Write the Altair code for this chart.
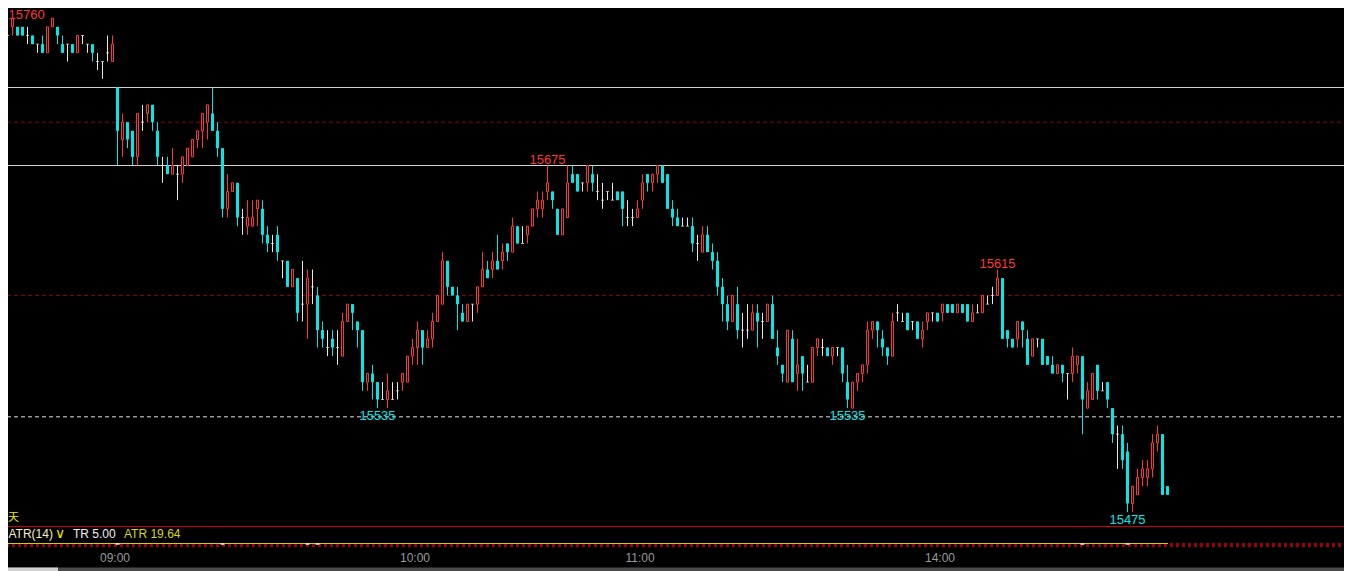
import altair as alt
import pandas as pd

# ---------------- data (1-minute candles) ----------------
opens = [
    15755, 15750, 15755, 15755, 15755, 15750, 15750, 15745, 15745, 15740,
    15755, 15755, 15745, 15745, 15745, 15740, 15750, 15745, 15745, 15735,
    15735, 15740, 15735, 15720, 15690, 15700, 15695, 15680, 15700, 15705,
    15710, 15695, 15675, 15675, 15670, 15670, 15670, 15675, 15680, 15690,
    15695, 15700, 15705, 15695, 15685, 15650, 15660, 15665, 15645, 15640,
    15640, 15650, 15650, 15635, 15630, 15635, 15620, 15620, 15605, 15610,
    15595, 15595, 15605, 15600, 15580, 15570, 15575, 15570, 15565, 15585,
    15595, 15585, 15580, 15550, 15555, 15550, 15540, 15540, 15540, 15545,
    15550, 15550, 15565, 15570, 15580, 15570, 15575, 15585, 15595, 15620,
    15605, 15600, 15590, 15585, 15595, 15595, 15605, 15615, 15615, 15620,
    15620, 15630, 15625, 15640, 15630, 15635, 15640, 15650, 15650, 15660,
    15660, 15650, 15635, 15645, 15670, 15670, 15665, 15665, 15670, 15660,
    15655, 15660, 15655, 15660, 15660, 15645, 15645, 15645, 15655, 15670,
    15665, 15670, 15675, 15670, 15650, 15645, 15640, 15640, 15640, 15630,
    15625, 15635, 15625, 15620, 15605, 15595, 15585, 15595, 15580, 15580,
    15580, 15590, 15585, 15585, 15595, 15570, 15560, 15550, 15575, 15555,
    15565, 15550, 15550, 15570, 15570, 15570, 15565, 15570, 15570, 15550,
    15535, 15550, 15555, 15560, 15580, 15585, 15575, 15570, 15565, 15590,
    15585, 15590, 15585, 15585, 15575, 15585, 15590, 15590, 15590, 15595,
    15595, 15590, 15595, 15595, 15585, 15590, 15590, 15595, 15600, 15600,
    15610, 15580, 15575, 15575, 15585, 15575, 15565, 15575, 15575, 15565,
    15560, 15555, 15560, 15555, 15555, 15560, 15565, 15535, 15540, 15560,
    15545, 15550, 15535, 15520, 15520, 15510, 15480, 15485, 15495, 15495,
    15500, 15515, 15520, 15490,
]
highs = [
    15755, 15755, 15760, 15755, 15755, 15755, 15750, 15745, 15750, 15755,
    15760, 15755, 15750, 15745, 15745, 15750, 15750, 15745, 15745, 15740,
    15735, 15750, 15750, 15720, 15705, 15700, 15695, 15705, 15710, 15710,
    15710, 15700, 15680, 15680, 15685, 15675, 15680, 15685, 15690, 15695,
    15705, 15710, 15720, 15700, 15685, 15670, 15665, 15665, 15650, 15655,
    15655, 15655, 15655, 15640, 15635, 15640, 15620, 15620, 15615, 15610,
    15620, 15615, 15615, 15605, 15585, 15580, 15580, 15580, 15590, 15595,
    15595, 15585, 15580, 15555, 15560, 15550, 15550, 15555, 15550, 15550,
    15555, 15565, 15575, 15585, 15580, 15580, 15590, 15600, 15625, 15620,
    15605, 15605, 15595, 15595, 15595, 15605, 15625, 15620, 15625, 15635,
    15630, 15630, 15645, 15640, 15640, 15640, 15650, 15660, 15660, 15675,
    15660, 15650, 15650, 15675, 15675, 15670, 15665, 15675, 15675, 15670,
    15665, 15660, 15665, 15660, 15660, 15655, 15650, 15655, 15670, 15670,
    15670, 15675, 15675, 15670, 15655, 15650, 15645, 15645, 15645, 15635,
    15640, 15640, 15630, 15625, 15610, 15600, 15600, 15605, 15590, 15595,
    15595, 15595, 15590, 15595, 15600, 15580, 15560, 15580, 15580, 15575,
    15565, 15560, 15570, 15575, 15575, 15570, 15570, 15570, 15570, 15560,
    15550, 15555, 15560, 15585, 15585, 15585, 15580, 15570, 15590, 15595,
    15590, 15590, 15585, 15585, 15585, 15590, 15590, 15590, 15595, 15595,
    15595, 15595, 15595, 15595, 15595, 15595, 15600, 15600, 15605, 15615,
    15610, 15580, 15575, 15585, 15585, 15580, 15575, 15575, 15575, 15565,
    15565, 15560, 15560, 15555, 15570, 15565, 15565, 15550, 15555, 15560,
    15550, 15550, 15535, 15525, 15525, 15515, 15490, 15500, 15505, 15505,
    15520, 15525, 15520, 15490,
]
lows = [
    15750, 15745, 15750, 15750, 15750, 15745, 15745, 15740, 15740, 15740,
    15755, 15745, 15740, 15735, 15740, 15740, 15745, 15740, 15735, 15730,
    15725, 15735, 15735, 15675, 15680, 15685, 15675, 15675, 15695, 15700,
    15695, 15675, 15665, 15670, 15670, 15655, 15665, 15675, 15680, 15685,
    15685, 15690, 15695, 15680, 15645, 15645, 15660, 15640, 15635, 15635,
    15640, 15640, 15630, 15625, 15625, 15620, 15610, 15605, 15605, 15585,
    15585, 15575, 15595, 15570, 15570, 15565, 15565, 15560, 15565, 15585,
    15580, 15570, 15545, 15545, 15540, 15535, 15540, 15535, 15540, 15540,
    15545, 15550, 15560, 15560, 15560, 15570, 15570, 15585, 15595, 15600,
    15600, 15580, 15585, 15585, 15585, 15590, 15605, 15610, 15610, 15615,
    15615, 15620, 15625, 15630, 15630, 15630, 15640, 15645, 15645, 15655,
    15650, 15635, 15635, 15645, 15665, 15660, 15660, 15660, 15660, 15655,
    15650, 15655, 15655, 15655, 15640, 15640, 15640, 15645, 15650, 15660,
    15660, 15665, 15665, 15650, 15640, 15640, 15640, 15640, 15625, 15620,
    15625, 15625, 15615, 15600, 15585, 15580, 15585, 15575, 15570, 15575,
    15580, 15570, 15575, 15585, 15575, 15560, 15550, 15550, 15550, 15545,
    15545, 15550, 15550, 15565, 15565, 15565, 15560, 15565, 15550, 15535,
    15535, 15545, 15550, 15555, 15575, 15570, 15565, 15560, 15565, 15585,
    15585, 15580, 15580, 15575, 15570, 15580, 15585, 15585, 15585, 15590,
    15590, 15590, 15590, 15585, 15585, 15590, 15590, 15595, 15595, 15600,
    15575, 15570, 15570, 15570, 15570, 15560, 15565, 15570, 15560, 15560,
    15555, 15555, 15550, 15540, 15550, 15555, 15520, 15535, 15540, 15540,
    15545, 15535, 15515, 15500, 15500, 15475, 15475, 15485, 15490, 15490,
    15495, 15510, 15485, 15485,
]
closes = [
    15750, 15750, 15760, 15750, 15750, 15750, 15745, 15745, 15740, 15755,
    15760, 15750, 15740, 15745, 15740, 15750, 15750, 15745, 15740, 15735,
    15735, 15740, 15745, 15695, 15700, 15690, 15680, 15705, 15700, 15710,
    15700, 15680, 15675, 15670, 15675, 15670, 15680, 15685, 15690, 15695,
    15705, 15710, 15695, 15685, 15650, 15660, 15665, 15645, 15645, 15645,
    15645, 15655, 15635, 15630, 15630, 15625, 15620, 15605, 15615, 15590,
    15595, 15610, 15605, 15580, 15575, 15570, 15570, 15570, 15585, 15595,
    15590, 15580, 15550, 15555, 15550, 15540, 15540, 15545, 15540, 15545,
    15555, 15565, 15570, 15580, 15570, 15575, 15585, 15600, 15620, 15605,
    15600, 15595, 15585, 15595, 15595, 15605, 15615, 15610, 15620, 15615,
    15625, 15625, 15640, 15630, 15630, 15640, 15650, 15655, 15655, 15665,
    15655, 15635, 15650, 15665, 15665, 15660, 15665, 15675, 15665, 15660,
    15655, 15660, 15655, 15655, 15650, 15645, 15645, 15650, 15665, 15665,
    15670, 15675, 15665, 15650, 15645, 15640, 15640, 15640, 15630, 15630,
    15635, 15625, 15620, 15605, 15595, 15585, 15600, 15580, 15580, 15580,
    15590, 15585, 15585, 15595, 15575, 15565, 15555, 15580, 15550, 15560,
    15555, 15550, 15570, 15575, 15570, 15565, 15570, 15570, 15555, 15540,
    15550, 15555, 15560, 15580, 15585, 15580, 15570, 15565, 15585, 15590,
    15585, 15580, 15585, 15575, 15580, 15590, 15590, 15585, 15595, 15590,
    15590, 15595, 15590, 15585, 15590, 15590, 15600, 15595, 15600, 15610,
    15575, 15575, 15570, 15585, 15580, 15560, 15575, 15575, 15560, 15560,
    15555, 15560, 15555, 15555, 15565, 15565, 15540, 15545, 15555, 15545,
    15545, 15540, 15520, 15520, 15505, 15480, 15490, 15495, 15500, 15500,
    15515, 15520, 15485, 15485,
]
assert len(opens) == len(highs) == len(lows) == len(closes)

edge_label_idx = [2]                  # high label at the left edge
hi_label_idx = [109, 199]             # candles whose high is annotated
lo_label_idx = [75, 169, 225]         # candles whose low is annotated
solid_levels = [15720, 15675]
red_dash_levels = [15700, 15600]
white_dash_levels = [15530]
time_pos = [22.5, 82.5, 127.5, 187.5]
time_text = ["09:00", "10:00", "11:00", "14:00"]
spike_idx = [23, 44, 61, 63, 216, 225]
atr_texts = ["ATR(14)", "TR 5.00", "ATR 19.64"]

# ---------------- styling ----------------
RED = "#ff3535"
CYAN = "#00e8e8"
WHITE = "#e8e8e8"
FONT = "Liberation Sans"
W, H = 1336, 563
X_DOM = [1.1, 268.3]
Y_DOM = [15441.06, 15765.865]

n = len(opens)
kind = ["up" if c > o else ("down" if c < o else "flat") for o, c in zip(opens, closes)]
df = pd.DataFrame({"i": list(range(n)), "o": opens, "h": highs, "l": lows, "c": closes, "kind": kind})

xs = alt.Scale(domain=X_DOM, nice=False, zero=False, padding=0)
ys = alt.Scale(domain=Y_DOM, nice=False, zero=False, padding=0)
X = alt.X("i:Q", scale=xs, axis=None)


def Yf(f):
    return alt.Y(f, scale=ys, axis=None)


one = alt.Data(values=[{"k": 0}])
base = alt.Chart(df)

# level lines
lev_solid = alt.Chart(pd.DataFrame({"p": solid_levels})).mark_rule(color="#d4d4d4", strokeWidth=1).encode(
    y=Yf("p:Q"), x=alt.value(-8), x2=alt.value(W))
lev_red = alt.Chart(pd.DataFrame({"p": red_dash_levels})).mark_rule(
    color="#8a0000", strokeWidth=1, strokeDash=[4, 3]).encode(y=Yf("p:Q"), x=alt.value(-8), x2=alt.value(W))
lev_white = alt.Chart(pd.DataFrame({"p": white_dash_levels})).mark_rule(
    color="#e0e0e0", strokeWidth=1, strokeDash=[4, 3]).encode(y=Yf("p:Q"), x=alt.value(-8), x2=alt.value(W))

color_enc = alt.Color("kind:N", scale=alt.Scale(domain=["up", "down", "flat"], range=[RED, CYAN, WHITE]), legend=None)

wicks = base.mark_rule(strokeWidth=1).encode(x=X, y=Yf("l:Q"), y2="h:Q", color=color_enc)
down = base.transform_filter("datum.kind == 'down'").mark_bar(size=3, color=CYAN).encode(
    x=X, y=Yf("o:Q"), y2="c:Q")
up = base.transform_filter("datum.kind == 'up'").mark_bar(size=2, fill="#000000", stroke=RED, strokeWidth=1).encode(
    x=X, y=Yf("o:Q"), y2="c:Q")
flat = base.transform_filter("datum.kind == 'flat'").mark_tick(
    orient="horizontal", size=3, thickness=1, color=WHITE).encode(x=X, y=Yf("o:Q"))

edge_df = pd.DataFrame({"i": edge_label_idx, "p": [highs[k] for k in edge_label_idx]})
hi_df = pd.DataFrame({"i": hi_label_idx, "p": [highs[k] for k in hi_label_idx]})
lo_df = pd.DataFrame({"i": lo_label_idx, "p": [lows[k] for k in lo_label_idx]})
edge_lab = alt.Chart(edge_df).mark_text(font=FONT, fontSize=13, color=RED, baseline="alphabetic", align="left",
                                        dx=-4, dy=0.5).encode(x=X, y=Yf("p:Q"), text=alt.Text("p:Q", format="d"))
hi_lab = alt.Chart(hi_df).mark_text(font=FONT, fontSize=13, color=RED, baseline="alphabetic", align="center", dy=-2).encode(
    x=X, y=Yf("p:Q"), text=alt.Text("p:Q", format="d"))
lo_lab = alt.Chart(lo_df).mark_text(font=FONT, fontSize=13, color=CYAN, baseline="alphabetic", align="center", dy=12).encode(
    x=X, y=Yf("p:Q"), text=alt.Text("p:Q", format="d"))

# bottom indicator strip
red_sep = alt.Chart(one).mark_rule(color="#d00000", strokeWidth=1).encode(
    x=alt.value(-8), x2=alt.value(W), y=alt.value(518.5))
day_txt = alt.Chart(one).mark_text(text="天", font="Noto Sans CJK SC", fontSize=11, color="#e6e600",
                                    align="left", baseline="alphabetic").encode(x=alt.value(0), y=alt.value(513))
atr1 = alt.Chart(one).mark_text(text=atr_texts[0], font=FONT, fontSize=12, color="#f0f0c8",
                                align="left", baseline="alphabetic").encode(x=alt.value(0.5), y=alt.value(530.3))
chev = alt.Chart(one).mark_text(text="∨", font="DejaVu Sans", fontSize=14, color="#e6e600",
                                align="center", baseline="alphabetic").encode(x=alt.value(52), y=alt.value(530.3))
atr2 = alt.Chart(one).mark_text(text=atr_texts[1], font=FONT, fontSize=12, color="#f0f0f0",
                                align="left", baseline="alphabetic").encode(x=alt.value(65), y=alt.value(530.3))
atr3 = alt.Chart(one).mark_text(text=atr_texts[2], font=FONT, fontSize=12, color="#d8d800",
                                align="left", baseline="alphabetic").encode(x=alt.value(116), y=alt.value(530.3))
red_dots = alt.Chart(one).mark_rule(color="#a00000", strokeWidth=4, strokeDash=[3, 3]).encode(
    x=alt.value(-8), x2=alt.value(W), y=alt.value(537))
yellow_ln = alt.Chart(one).mark_rule(color="#d0d000", strokeWidth=1).encode(
    x=alt.value(-8), x2=alt.value(1160), y=alt.value(535.5))
spikes = alt.Chart(pd.DataFrame({"i": spike_idx})).mark_tick(
    orient="horizontal", size=4, thickness=2, color="#f0f0f0").encode(x=X, y=alt.value(536))

time_df = pd.DataFrame({"i": time_pos, "t": time_text})
tlab = alt.Chart(time_df).mark_text(font=FONT, fontSize=12, color="#9a9a9a", align="center", baseline="alphabetic").encode(
    x=X, y=alt.value(553.7), text="t:N")

bar_dark = alt.Chart(one).mark_rule(color="#4a4a4a", strokeWidth=4).encode(
    x=alt.value(-8), x2=alt.value(W), y=alt.value(561.5))
bar_light = alt.Chart(one).mark_rule(color="#d0d0d0", strokeWidth=4).encode(
    x=alt.value(-8), x2=alt.value(50), y=alt.value(561.5))

chart = alt.layer(
    lev_red, lev_white, lev_solid,
    wicks, down, up, flat,
    edge_lab, hi_lab, lo_lab,
    red_sep, day_txt, atr1, chev, atr2, atr3,
    red_dots, yellow_ln, spikes, tlab,
    bar_dark, bar_light,
).properties(
    width=W, height=H, padding=0, autosize=alt.AutoSizeParams(type="none")
).configure(background="#000000").configure_view(strokeWidth=0, fill="#000000")

chart.save("out.html", embed_options={"renderer": "svg", "actions": False})
